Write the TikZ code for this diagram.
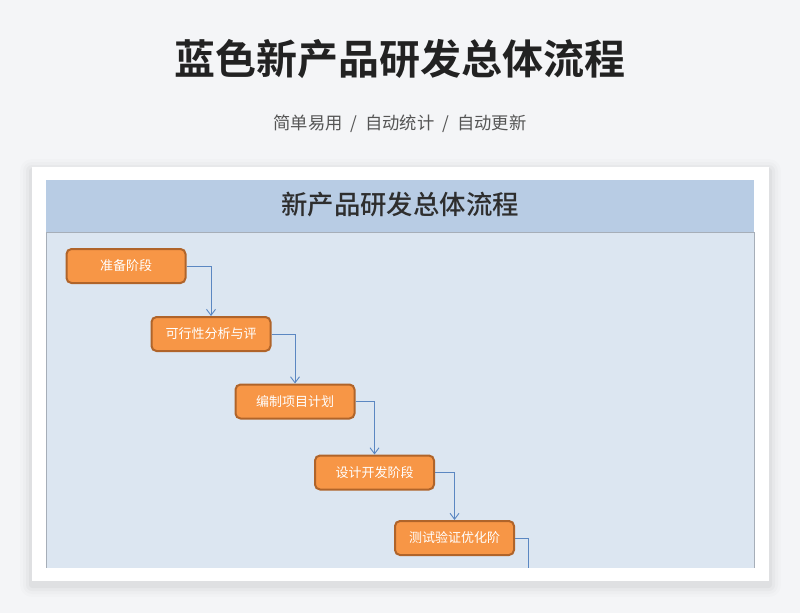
\documentclass[tikz,border=0pt]{standalone}
\usepackage{fontspec}
\newfontfamily\cjk{Noto Sans CJK SC}[BoldFont={Noto Sans CJK SC Bold}]
\newfontfamily\cjkm{Noto Sans CJK SC Medium}
\usetikzlibrary{arrows.meta}
\definecolor{bgc}{HTML}{F4F5F7}
\definecolor{headc}{HTML}{B8CCE4}
\definecolor{bodyc}{HTML}{DCE6F1}
\definecolor{edgec}{HTML}{A6AEB8}
\definecolor{boxc}{HTML}{F79646}
\definecolor{boxedge}{HTML}{B0642A}
\definecolor{connc}{HTML}{5B87C2}
\definecolor{titlec}{HTML}{222222}
\definecolor{subc}{HTML}{555555}
\tikzset{
  stepbox/.style={draw=boxedge, fill=boxc, line width=2pt, rounded corners=5pt,
    minimum width=119pt, minimum height=34pt, inner sep=0pt,
    font=\cjk\fontsize{13}{14}\selectfont, text=white},
  conn/.style={draw=connc, line width=0.9pt, -{Straight Barb[length=6pt,width=9pt]}},
  connplain/.style={draw=connc, line width=0.9pt},
}
\begin{document}
\begin{tikzpicture}[x=1pt,y=-1pt]
\useasboundingbox (0,0) rectangle (800,613);
\fill[bgc] (0,0) rectangle (800,613);
% card shadow
\foreach \i/\o in {12/0.012,9/0.016,6/0.022,3/0.03}
  \fill[black,opacity=\o,rounded corners=\i pt] (32-\i,167-\i+4) rectangle (769+\i,581+\i+4);
\fill[white] (32,167) rectangle (769,581);
% header band and body
\fill[headc] (46,180) rectangle (754,232);
\fill[bodyc] (46,232) rectangle (754,567.5);
\draw[edgec, line width=0.8pt] (46,232) -- (754,232);
\draw[edgec, line width=0.8pt] (46,232) -- (46,567.5);
\draw[edgec, line width=0.8pt] (754,232) -- (754,567.5);
% titles
\node[font=\cjk\bfseries\fontsize{41}{41}\selectfont, text=titlec] (title) at (400,59) {蓝色新产品研发总体流程};
\node[font=\cjk\fontsize{17.3}{18}\selectfont, text=subc] (sub) at (400,123.5)
  {简单易用\hspace{8pt}/\hspace{8pt}自动统计\hspace{8pt}/\hspace{8pt}自动更新};
\node[font=\cjkm\fontsize{26.4}{27}\selectfont, text=black!82] (head) at (400,204.5) {新产品研发总体流程};
% steps
\node[stepbox] (b1) at (126,266) {准备阶段};
\node[stepbox] (b2) at (211,334) {可行性分析与评};
\node[stepbox] (b3) at (295,401.5) {编制项目计划};
\node[stepbox] (b4) at (374.5,472.5) {设计开发阶段};
\node[stepbox] (b5) at (454.5,538) {测试验证优化阶};
\coordinate (tail) at (528.7,567.5);
\draw[conn] (b1.east) -| (b2.north);
\draw[conn] (b2.east) -| (b3.north);
\draw[conn] (b3.east) -| (b4.north);
\draw[conn] (b4.east) -| (b5.north);
\draw[connplain] (b5.east) -| (tail);
\end{tikzpicture}
\end{document}
